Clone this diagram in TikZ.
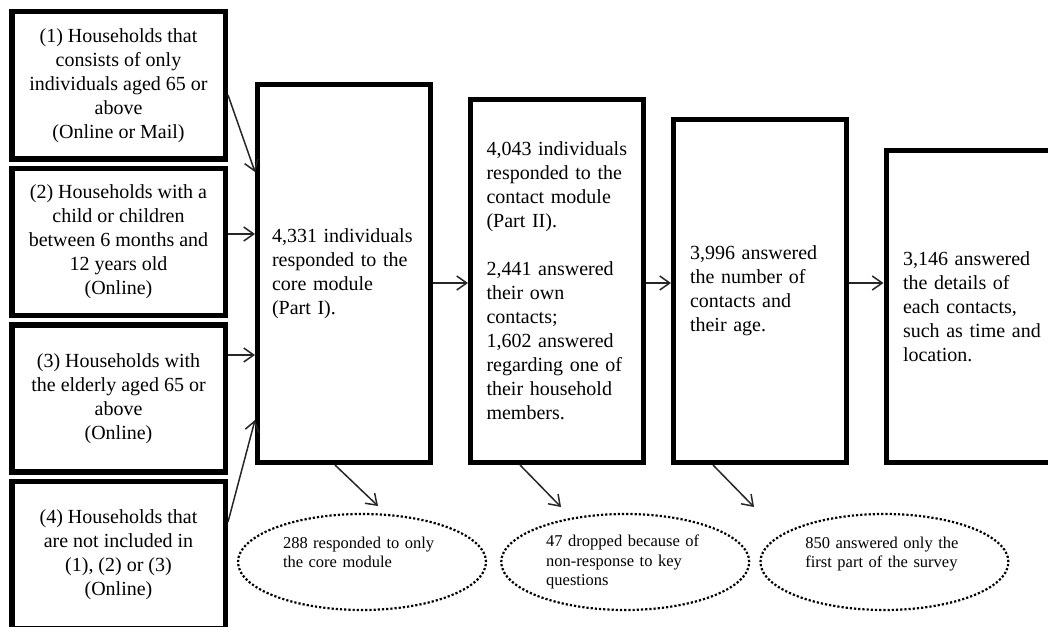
\documentclass[tikz,border=0pt]{standalone}
\usepackage{fontspec}
\setmainfont{Liberation Serif}
\usepackage{tikz}
\usetikzlibrary{
	positioning,
	shapes.geometric,
	arrows.meta
}
\tikzset{
	group/.style={draw,line width=5.5pt,minimum width=213.5pt,minimum height=147pt,
		align=center,inner sep=0pt,font=\fontsize{20}{24}\selectfont},
	stage/.style={draw,line width=5pt,minimum width=173pt,
		align=left,inner sep=0pt,font=\fontsize{20}{24}\selectfont},
	drop/.style={draw,ellipse,line width=2.2pt,dash pattern=on 2.2pt off 2pt,
		minimum width=248pt,minimum height=96pt,inner sep=0pt,
		align=left,text width=158pt,font=\fontsize{16.5}{19.5}\selectfont},
	flow/.style={black!85,line width=1.5pt,-{Straight Barb[length=10pt,width=14pt]}}
}

\begin{document}
\begin{tikzpicture}[x=1pt,y=-1pt]
	\useasboundingbox (0,0) rectangle (1048,626);
	\coordinate (d1) at (378,506);
	\coordinate (d2) at (561,507);
	\coordinate (d3) at (754,507);
	\draw
		node [group,anchor=north west] (g1) at (9,9) {(1) Households that\\consists of only\\individuals aged 65 or\\above\\(Online or Mail)}
		node [group,below=4pt of g1] (g2) {(2) Households with a\\child or children\\between 6 months and\\12 years old\\(Online)}
		node [group,below=4pt of g2] (g3) {(3) Households with\\the elderly aged 65 or\\above\\(Online)}
		node [group,below=4pt of g3] (g4) {(4) Households that\\are not included in\\(1), (2) or (3)\\(Online)}

		node [stage,anchor=north west,minimum height=378pt,text width=144pt] (core) at (255,82) {4,331 individuals\\responded to the\\core module\\(Part I).}
		node [stage,right=35pt of core.south east,anchor=south west,minimum height=363pt,text width=141pt] (part2) {4,043 individuals\\responded to the\\contact module\\(Part II).\\[24pt]2,441 answered\\their own\\contacts;\\1,602 answered\\regarding one of\\their household\\members.}
		node [stage,right=25pt of part2.south east,anchor=south west,minimum height=343pt,text width=140pt] (part3) {3,996 answered\\the number of\\contacts and\\their age.}
		node [stage,right=34.5pt of part3.south east,anchor=south west,minimum height=312pt,text width=139pt] (part4) {3,146 answered\\the details of\\each contacts,\\such as time and\\location.}

		node [drop] (e1) at (362,562) {288 responded to only\\the core module\\\mbox{}}
		node [drop,right=13pt of e1] (e2) {47 dropped because of\\non-response to key\\questions}
		node [drop,right=9pt of e2] (e3) {850 answered only the\\first part of the survey\\\mbox{}}

		(g1.east |- 0,95) edge[flow] (core.west |- 0,172)
		(g2.east |- 0,234) edge[flow] (core.west |- 0,234)
		(g3.east |- 0,355) edge[flow] (core.west |- 0,355)
		(g4.east |- 0,522) edge[flow] (core.west |- 0,420)
		(core.east |- 0,283) edge[flow] (part2.west |- 0,283)
		(part2.east |- 0,283) edge[flow] (part3.west |- 0,283)
		(part3.east |- 0,283) edge[flow] (part4.west |- 0,283)
		(core.south -| 335,0) edge[flow] (d1)
		(part2.south -| 520,0) edge[flow] (d2)
		(part3.south -| 713,0) edge[flow] (d3)
	;
\end{tikzpicture}
\end{document}
